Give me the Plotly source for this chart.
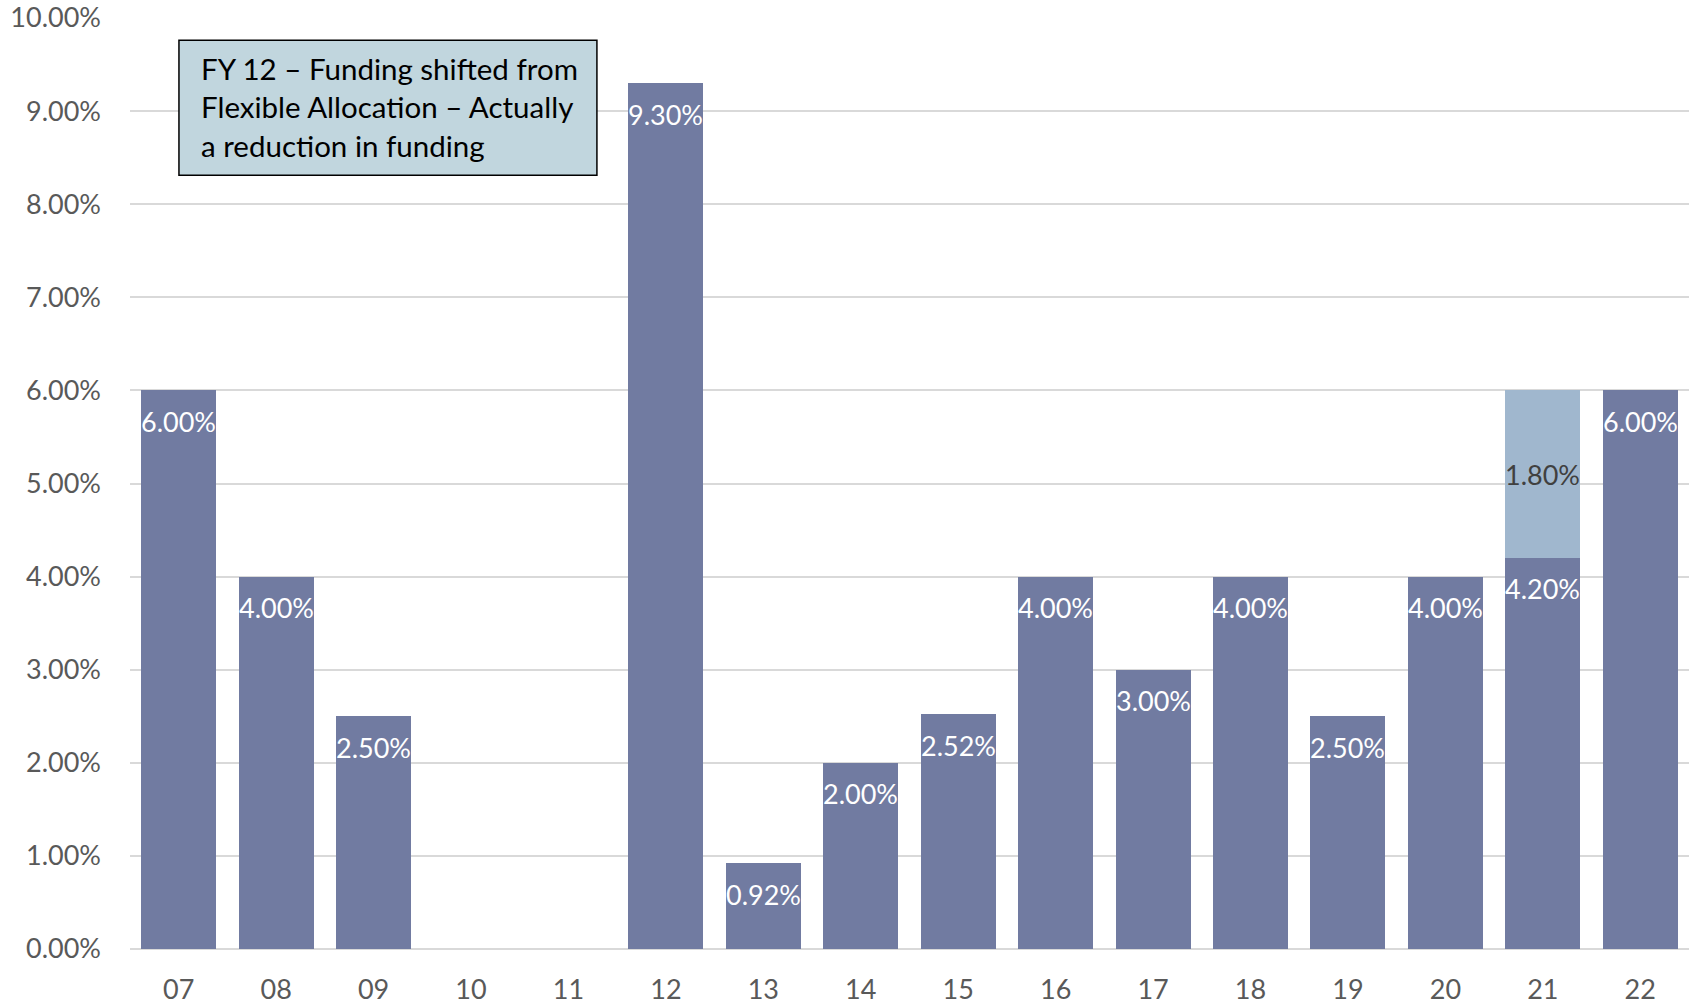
import plotly.graph_objects as go

years = ["07", "08", "09", "10", "11", "12", "13", "14", "15", "16", "17", "18", "19", "20", "21", "22"]
base_pct = [6.00, 4.00, 2.50, None, None, 9.30, 0.92, 2.00, 2.52, 4.00, 3.00, 4.00, 2.50, 4.00, 4.20, 6.00]
extra_pct = [None] * 14 + [1.80, None]
note_text = "FY 12 – Funding shifted from<br>Flexible Allocation – Actually<br>a reduction in funding"

DARK = "#717BA1"
LIGHT = "#A0B7CE"
FONT = "Lato"

fig = go.Figure()
fig.add_trace(go.Bar(x=years, y=base_pct, marker=dict(color=DARK, line=dict(width=0)),
                     hoverinfo="skip", showlegend=False))
fig.add_trace(go.Bar(x=years, y=extra_pct, marker=dict(color=LIGHT, line=dict(width=0)),
                     hoverinfo="skip", showlegend=False))

# value labels (category axis: annotation x given as category index)
for i, v in enumerate(base_pct):
    if v:
        fig.add_annotation(x=i, y=v, xref="x", yref="y", text=f"{v:.2f}%", showarrow=False,
                           yanchor="middle", yshift=-31,
                           font=dict(family=FONT, size=27, color="white"))
for i, (b, e) in enumerate(zip(base_pct, extra_pct)):
    if e:
        fig.add_annotation(x=i, y=b + e / 2, xref="x", yref="y", text=f"{e:.2f}%", showarrow=False,
                           yanchor="middle",
                           font=dict(family=FONT, size=27, color="#404040"))

# note box
fig.add_shape(type="rect", xref="paper", yref="paper", x0=0.0314, x1=0.2995, y0=0.831, y1=0.976,
              fillcolor="#C1D6DE", line=dict(color="black", width=1.5), layer="above")
fig.add_annotation(xref="paper", yref="paper", x=0.0443, y=0.9045, xanchor="left", yanchor="middle",
                   align="left", text=note_text, showarrow=False,
                   font=dict(family=FONT, size=29.5, color="black"))

fig.update_layout(
    width=1694, height=1004,
    margin=dict(l=130, r=5, t=18, b=55),
    barmode="stack", bargap=0.23,
    plot_bgcolor="white", paper_bgcolor="white",
    font=dict(family=FONT, size=27, color="#595959"),
    xaxis=dict(type="category", categoryorder="array", categoryarray=years,
               range=[-0.5, len(years) - 0.5], automargin=False,
               showgrid=False, showline=False, ticks="",
               ticklabelstandoff=22, tickfont=dict(size=27, color="#595959")),
    yaxis=dict(range=[0, 10], dtick=1, tickformat=".2f", ticksuffix="%", automargin=False,
               showgrid=True, gridcolor="#D9D9D9", gridwidth=1.5,
               zeroline=True, zerolinecolor="#D9D9D9", zerolinewidth=1.5,
               showline=False, ticks="", ticklabelstandoff=28,
               tickfont=dict(size=27, color="#595959")),
)

fig.write_html("out.html")
